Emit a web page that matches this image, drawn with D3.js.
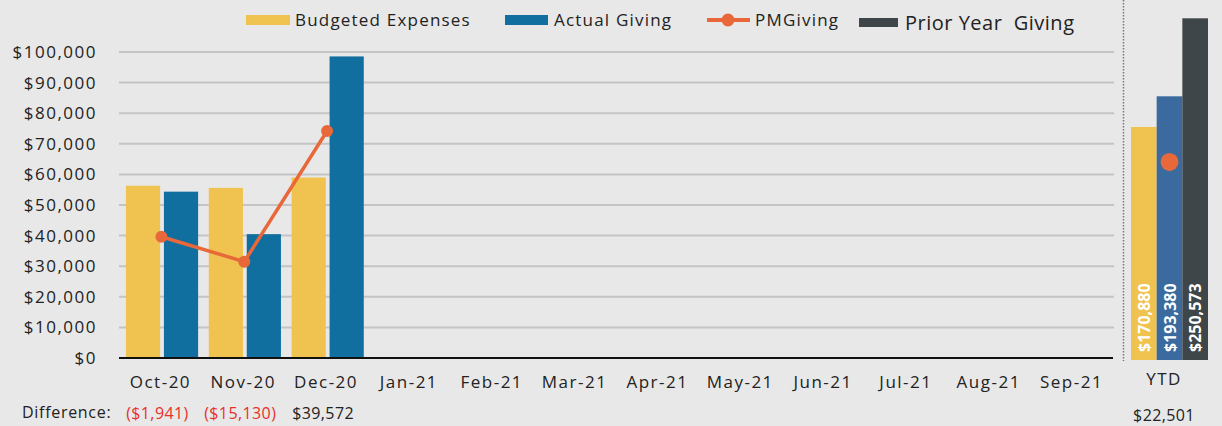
<html>
<head>
<script src="https://d3js.org/d3.v7.min.js"></script>
<style>
    body { margin:0; background:#e8e8e8; }
    text { font-family:"Open Sans", sans-serif; fill:#222; }
</style>
</head>
<body>
<svg id="plot"></svg>
<script>
var months = ["Oct-20","Nov-20","Dec-20","Jan-21","Feb-21","Mar-21","Apr-21","May-21","Jun-21","Jul-21","Aug-21","Sep-21"];
var budgeted = [56300, 55600, 58980];
var actual = [54359, 40470, 98552];
var pmGiving = [39640, 31470, 74180];
var diffLabels = ["($1,941)", "($15,130)", "$39,572"];
var yTicks = [0,10000,20000,30000,40000,50000,60000,70000,80000,90000,100000];

var ytdKeys = ["Budgeted Expenses","Actual Giving","Prior Year Giving"];
var ytdValues = [170880, 193380, 250573];
var ytdPM = 145290;
var ytdDiff = "$22,501";

var colors = {budget:"#f0c350", actual:"#116fa0", ytdActual:"#3a6a9e", prior:"#3e4649", pm:"#e8683a"};

//sizes
var screen = {width:1222, height:426};
var plot = {left:119, right:1113, top:52, bottom:358};

var svg = d3.select("#plot")
    .attr("width",screen.width)
    .attr("height",screen.height);

svg.append("rect").attr("width",screen.width).attr("height",screen.height).attr("fill","#e8e8e8");

var xScale = d3.scaleBand()
    .domain(months)
    .range([plot.left,plot.right]);

var yScale = d3.scaleLinear()
    .domain([0,100000])
    .range([plot.bottom,plot.top]);

var inner = d3.scaleBand()
    .domain(["b","a"])
    .range([0,xScale.bandwidth()])
    .paddingInner(0.1)
    .paddingOuter(0.14)
    .align(0.65);

//gridlines
svg.append("g")
    .selectAll("line")
    .data(yTicks.slice(1))
    .enter()
    .append("line")
    .attr("x1",plot.left)
    .attr("x2",plot.right+1)
    .attr("y1",function(d){return yScale(d);})
    .attr("y2",function(d){return yScale(d);})
    .attr("stroke","#c4c4c4")
    .attr("stroke-width",2);

//y labels
var yAxis = d3.axisLeft(yScale)
    .tickValues(yTicks)
    .tickSize(0)
    .tickPadding(22)
    .tickFormat(function(d){return "$"+d3.format(",")(d);});

var ya = svg.append("g")
    .attr("transform","translate("+plot.left+",0)")
    .call(yAxis);
ya.select(".domain").remove();
ya.selectAll("text")
    .style("font-size","17px")
    .style("font-family","Open Sans")
    .style("letter-spacing","1.5px")
    .attr("fill","#222");

//bars
var bars = svg.append("g");
bars.selectAll(".bud")
    .data(budgeted)
    .enter()
    .append("rect")
    .attr("x",function(d,i){return xScale(months[i])+inner("b");})
    .attr("y",function(d){return yScale(d);})
    .attr("width",inner.bandwidth())
    .attr("height",function(d){return yScale(0)-yScale(d);})
    .attr("fill",colors.budget);

bars.selectAll(".act")
    .data(actual)
    .enter()
    .append("rect")
    .attr("x",function(d,i){return xScale(months[i])+inner("a");})
    .attr("y",function(d){return yScale(d);})
    .attr("width",inner.bandwidth())
    .attr("height",function(d){return yScale(0)-yScale(d);})
    .attr("fill",colors.actual);

//baseline
svg.append("line")
    .attr("x1",plot.left).attr("x2",plot.right)
    .attr("y1",yScale(0)).attr("y2",yScale(0))
    .attr("stroke","#111").attr("stroke-width",2);

//PMGiving line
var line = d3.line()
    .x(function(d,i){return xScale(months[i])+xScale.bandwidth()/2+1;})
    .y(function(d){return yScale(d);});

svg.append("path")
    .datum(pmGiving)
    .attr("d",line)
    .attr("fill","none")
    .attr("stroke",colors.pm)
    .attr("stroke-width",3.5);

svg.append("g")
    .selectAll("circle")
    .data(pmGiving)
    .enter()
    .append("circle")
    .attr("cx",function(d,i){return xScale(months[i])+xScale.bandwidth()/2+1;})
    .attr("cy",function(d){return yScale(d);})
    .attr("r",6)
    .attr("fill",colors.pm);

//x labels
var xAxis = d3.axisBottom(xScale).tickSize(0).tickPadding(18);
var xa = svg.append("g")
    .attr("transform","translate(0,"+plot.bottom+")")
    .call(xAxis);
xa.select(".domain").remove();
xa.selectAll("text")
    .style("font-size","17px")
    .style("font-family","Open Sans")
    .style("letter-spacing","1.5px")
    .attr("fill","#222");

//difference row
svg.append("text")
    .attr("x",22).attr("y",418)
    .style("font-size","16px")
    .style("letter-spacing","0.7px")
    .text("Difference:");

svg.append("g")
    .selectAll("text")
    .data(diffLabels)
    .enter()
    .append("text")
    .attr("x",function(d,i){return xScale(months[i])+xScale.bandwidth()/2-3;})
    .attr("y",419)
    .attr("text-anchor","middle")
    .style("font-size","16px")
    .style("letter-spacing","0.4px")
    .style("fill",function(d){return d.charAt(0)=="(" ? "#e8302a" : "#222";})
    .text(function(d){return d;});

//YTD panel
svg.append("line")
    .attr("x1",1123.5).attr("x2",1123.5)
    .attr("y1",0).attr("y2",361)
    .attr("stroke","#777")
    .attr("stroke-width",1.5)
    .attr("stroke-dasharray","1.5,1.5");

var ytdX = d3.scaleBand()
    .domain(ytdKeys)
    .range([1131,1208]);

var ytdY = d3.scaleLinear()
    .domain([0,264000])
    .range([360,0]);

var ytdColors = [colors.budget, colors.ytdActual, colors.prior];

svg.append("g")
    .selectAll("rect")
    .data(ytdValues)
    .enter()
    .append("rect")
    .attr("x",function(d,i){return ytdX(ytdKeys[i]);})
    .attr("y",function(d){return ytdY(d);})
    .attr("width",ytdX.bandwidth())
    .attr("height",function(d){return ytdY(0)-ytdY(d);})
    .attr("fill",function(d,i){return ytdColors[i];});

svg.append("g")
    .selectAll("text")
    .data(ytdValues)
    .enter()
    .append("text")
    .attr("transform",function(d,i){
        return "translate("+(ytdX(ytdKeys[i])+ytdX.bandwidth()/2+6)+",352) rotate(-90)";
    })
    .style("font-size","16px")
    .style("font-weight","bold")
    .style("fill","#fff")
    .text(function(d){return "$"+d3.format(",")(d);});

svg.append("circle")
    .attr("cx",ytdX("Actual Giving")+ytdX.bandwidth()/2)
    .attr("cy",ytdY(ytdPM))
    .attr("r",9)
    .attr("fill",colors.pm);

svg.append("text")
    .attr("x",1164).attr("y",385)
    .attr("text-anchor","middle")
    .style("font-size","17px")
    .style("letter-spacing","1.5px")
    .text("YTD");

svg.append("text")
    .attr("x",1164).attr("y",421)
    .attr("text-anchor","middle")
    .style("font-size","16px")
    .style("letter-spacing","0.4px")
    .text(ytdDiff);

//legend
var legend = svg.append("g").style("font-size","17px").style("letter-spacing","1.2px");
legend.append("rect").attr("x",246).attr("y",15).attr("width",44).attr("height",10).attr("fill",colors.budget);
legend.append("text").attr("x",295).attr("y",26).text("Budgeted Expenses");
legend.append("rect").attr("x",505).attr("y",15).attr("width",43).attr("height",10).attr("fill",colors.actual);
legend.append("text").attr("x",554).attr("y",26).text("Actual Giving");
legend.append("line").attr("x1",707).attr("x2",750).attr("y1",20).attr("y2",20).attr("stroke",colors.pm).attr("stroke-width",4);
legend.append("circle").attr("cx",728).attr("cy",20).attr("r",6.5).attr("fill",colors.pm);
legend.append("text").attr("x",755).attr("y",26).text("PMGiving");
legend.append("rect").attr("x",859).attr("y",18).attr("width",39).attr("height",9).attr("fill",colors.prior);
legend.append("text").attr("x",905).attr("y",30)
    .style("font-size","20px")
    .style("letter-spacing","0.5px")
    .style("white-space","pre")
    .text("Prior Year  Giving");
</script>
</body>
</html>
